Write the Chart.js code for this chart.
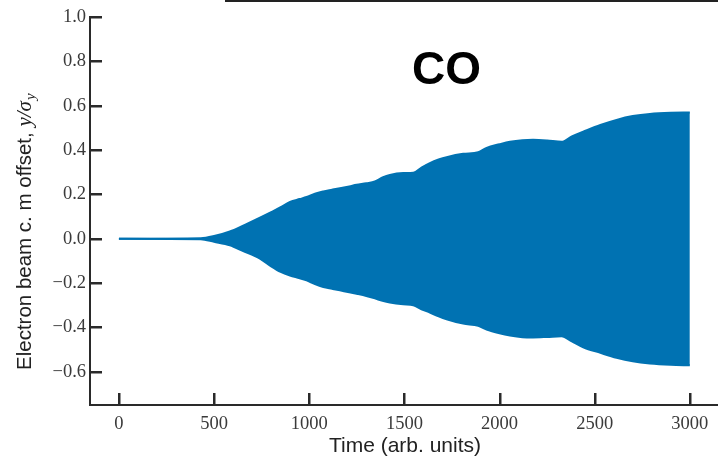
<!DOCTYPE html>
<html>
<head>
<meta charset="utf-8">
<script src="https://cdn.jsdelivr.net/npm/chart.js@4/dist/chart.umd.min.js"></script>
<style>
html,body{margin:0;padding:0;background:#fff;}
#wrap{width:718px;height:456px;position:relative;}
</style>
</head>
<body>
<div id="wrap"><canvas id="c" width="718" height="456"></canvas></div>
<script>
// ---- data ----
const times = [0, 430, 500, 583, 650, 741, 800, 850, 899, 950, 986, 1030, 1074, 1120, 1161, 1210, 1249, 1300, 1345, 1385, 1424, 1494, 1547, 1590, 1634, 1680, 1722, 1809, 1888, 1932, 2000, 2055, 2120, 2176, 2250, 2326, 2380, 2440, 2530, 2615, 2700, 2790, 2900, 3000];
const upperEnvelope = [0, 0.002, 0.012, 0.033, 0.058, 0.095, 0.12, 0.142, 0.166, 0.179, 0.188, 0.203, 0.213, 0.221, 0.228, 0.236, 0.243, 0.25, 0.258, 0.276, 0.288, 0.296, 0.297, 0.321, 0.341, 0.357, 0.368, 0.383, 0.39, 0.41, 0.426, 0.437, 0.444, 0.446, 0.443, 0.437, 0.462, 0.483, 0.513, 0.536, 0.553, 0.563, 0.568, 0.569];
const lowerEnvelope = [0, -0.002, -0.014, -0.03, -0.055, -0.09, -0.125, -0.15, -0.166, -0.178, -0.188, -0.205, -0.218, -0.226, -0.233, -0.241, -0.248, -0.258, -0.269, -0.28, -0.288, -0.296, -0.3, -0.318, -0.333, -0.35, -0.363, -0.383, -0.393, -0.41, -0.427, -0.437, -0.444, -0.445, -0.443, -0.44, -0.463, -0.49, -0.515, -0.537, -0.553, -0.563, -0.569, -0.571];
const xTickValues = [0, 500, 1000, 1500, 2000, 2500, 3000];
const xTickLabels = ['0', '500', '1000', '1500', '2000', '2500', '3000'];
const yTickValues = [-0.6, -0.4, -0.2, 0.0, 0.2, 0.4, 0.6, 0.8, 1.0];
const yTickLabels = ['\u22120.6', '\u22120.4', '\u22120.2', '0.0', '0.2', '0.4', '0.6', '0.8', '1.0'];
const xTitle = 'Time (arb. units)';
const yTitleText = 'Electron beam c. m offset, ';
const yTitleMath = 'y/\u03C3';
const yTitleSub = 'y';
const panelLabel = 'CO';

const BLUE = '#0072B2';
const SPINE = '#2a2a2a';

const decor = {
  id: 'decor',
  afterDraw(chart) {
    const ctx = chart.ctx;
    const xs = chart.scales.x, ys = chart.scales.y;
    const area = chart.chartArea;
    ctx.save();
    // inward ticks
    ctx.fillStyle = SPINE;
    xTickValues.forEach(v => {
      const px = Math.round(xs.getPixelForValue(v));
      ctx.fillRect(px - 1, area.bottom - 12, 2.5, 12);
    });
    yTickValues.forEach(v => {
      const py = Math.round(ys.getPixelForValue(v));
      ctx.fillRect(area.left, py - 1, 12, 2.5);
    });
    // top edge line (as in the picture)
    ctx.fillStyle = '#222';
    ctx.fillRect(225, 0, 493, 2);
    // x title
    ctx.fillStyle = '#222';
    ctx.font = '21px "Liberation Sans", Arial, sans-serif';
    ctx.textAlign = 'center';
    ctx.textBaseline = 'alphabetic';
    ctx.fillText(xTitle, 405, 452);
    // y title (rotated, mixed fonts)
    ctx.save();
    ctx.translate(31, 370);
    ctx.rotate(-Math.PI / 2);
    ctx.textAlign = 'left';
    ctx.font = '20.5px "Liberation Sans", Arial, sans-serif';
    ctx.fillText(yTitleText, 0, 0);
    let w = ctx.measureText(yTitleText).width;
    ctx.font = 'italic 21px "Liberation Serif", "DejaVu Serif", serif';
    ctx.fillText(yTitleMath, w, 0);
    w += ctx.measureText(yTitleMath).width;
    ctx.font = 'italic 15px "Liberation Serif", "DejaVu Serif", serif';
    ctx.fillText(yTitleSub, w + 1, 4);
    ctx.restore();
    // panel label
    ctx.font = 'bold 46px "Liberation Sans", Arial, sans-serif';
    ctx.fillStyle = '#000';
    ctx.textAlign = 'left';
    ctx.fillText(panelLabel, 412, 84);
    ctx.restore();
  }
};

new Chart(document.getElementById('c'), {
  type: 'line',
  data: {
    datasets: [
      {
        label: 'upper',
        data: times.map((t, i) => ({ x: t, y: upperEnvelope[i] })),
        borderColor: BLUE, backgroundColor: BLUE, borderWidth: 2,
        pointRadius: 0, cubicInterpolationMode: 'monotone', fill: '+1'
      },
      {
        label: 'lower',
        data: times.map((t, i) => ({ x: t, y: lowerEnvelope[i] })),
        borderColor: BLUE, backgroundColor: BLUE, borderWidth: 2,
        pointRadius: 0, cubicInterpolationMode: 'monotone', fill: false
      }
    ]
  },
  options: {
    responsive: false,
    animation: false,
    devicePixelRatio: 1,
    layout: { padding: { top: 17, right: 0, left: 0, bottom: 0 } },
    plugins: { legend: { display: false }, tooltip: { enabled: false }, title: { display: false } },
    scales: {
      x: {
        type: 'linear', min: -152, max: 3148,
        afterBuildTicks: s => { s.ticks = xTickValues.map(v => ({ value: v })); },
        afterFit: s => { s.height = 51; },
        ticks: {
          autoSkip: false, maxRotation: 0, padding: 8, color: '#3a3a3a',
          font: { family: '"Liberation Serif", "DejaVu Serif", serif', size: 18.5 },
          callback: (v) => { const i = xTickValues.indexOf(v); return i >= 0 ? xTickLabels[i] : ''; }
        },
        grid: { drawOnChartArea: false, drawTicks: false },
        border: { display: true, color: SPINE, width: 2 }
      },
      y: {
        type: 'linear', min: -0.75, max: 1.0,
        afterBuildTicks: s => { s.ticks = yTickValues.map(v => ({ value: v })); },
        afterFit: s => { s.width = 90; },
        ticks: {
          autoSkip: false, padding: 4, color: '#3a3a3a',
          font: { family: '"Liberation Serif", "DejaVu Serif", serif', size: 18.5 },
          callback: (v) => {
            const i = yTickValues.findIndex(t => Math.abs(t - v) < 1e-9);
            return i >= 0 ? yTickLabels[i] : '';
          }
        },
        grid: { drawOnChartArea: false, drawTicks: false },
        border: { display: true, color: SPINE, width: 2 }
      }
    }
  },
  plugins: [decor]
});
</script>
</body>
</html>
